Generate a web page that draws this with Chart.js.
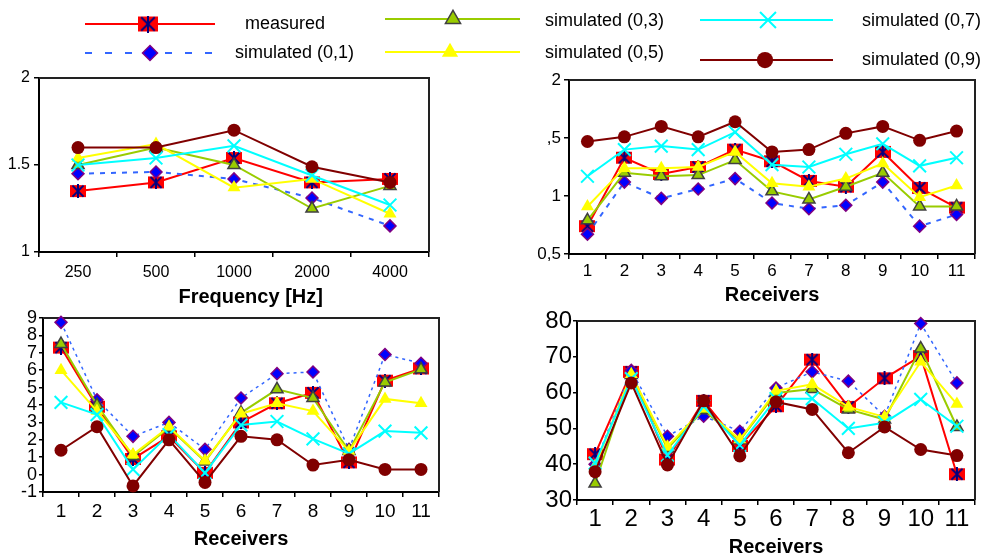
<!DOCTYPE html>
<html>
<head>
<meta charset="utf-8">
<script src="https://cdn.jsdelivr.net/npm/chart.js@4.4.1/dist/chart.umd.min.js"></script>
<style>
html, body { margin: 0; padding: 0; background: #fff; overflow: hidden; width: 986px; height: 559px; }
.box { position: absolute; }
#legend { position: absolute; left: 0; top: 0; }
</style>
</head>
<body>
<canvas id="legend" width="986" height="75"></canvas>
<div class="box" style="left:0;top:60px;width:440px;height:250px"><canvas id="c1"></canvas></div>
<div class="box" style="left:510px;top:60px;width:476px;height:250px"><canvas id="c2"></canvas></div>
<div class="box" style="left:0;top:300px;width:450px;height:259px"><canvas id="c3"></canvas></div>
<div class="box" style="left:510px;top:300px;width:476px;height:259px"><canvas id="c4"></canvas></div>
<script>
// Measured vs simulated (scattering 0,1 .. 0,9) - four panels + shared legend

const FONT = "'Liberation Sans', Arial, sans-serif";
Chart.defaults.font.family = FONT;
Chart.defaults.color = '#000';

// --- Data ---
const seriesNames = ['measured', 'simulated (0,1)', 'simulated (0,3)', 'simulated (0,5)', 'simulated (0,7)', 'simulated (0,9)'];

const freqLabels = ['250', '500', '1000', '2000', '4000'];
const receiverLabels = ['1', '2', '3', '4', '5', '6', '7', '8', '9', '10', '11'];

// top left: vs frequency
const freqMeasured = [1.35, 1.40, 1.54, 1.40, 1.42];
const freqSim01 = [1.45, 1.46, 1.42, 1.31, 1.15];
const freqSim03 = [1.50, 1.60, 1.50, 1.25, 1.38];
const freqSim05 = [1.54, 1.62, 1.37, 1.42, 1.22];
const freqSim07 = [1.50, 1.54, 1.61, 1.44, 1.27];
const freqSim09 = [1.60, 1.60, 1.70, 1.49, 1.40];

// top right: per receiver
const bMeasured = [0.74, 1.33, 1.19, 1.25, 1.40, 1.30, 1.13, 1.08, 1.38, 1.07, 0.90];
const bSim01 = [0.67, 1.12, 0.98, 1.06, 1.15, 0.94, 0.89, 0.92, 1.12, 0.74, 0.84];
const bSim03 = [0.79, 1.20, 1.17, 1.18, 1.31, 1.04, 0.97, 1.08, 1.20, 0.91, 0.91];
const bSim05 = [0.91, 1.24, 1.24, 1.25, 1.38, 1.11, 1.08, 1.15, 1.28, 0.99, 1.09];
const bSim07 = [1.17, 1.40, 1.43, 1.40, 1.55, 1.27, 1.25, 1.36, 1.45, 1.26, 1.33];
const bSim09 = [1.47, 1.51, 1.60, 1.51, 1.64, 1.38, 1.40, 1.54, 1.60, 1.48, 1.56];

// bottom left: per receiver
const cMeasured = [7.3, 3.9, 0.9, 2.2, 0.1, 3.0, 4.1, 4.7, 0.7, 5.4, 6.1];
const cSim01 = [8.75, 4.3, 2.2, 3.0, 1.45, 4.4, 5.8, 5.9, 1.45, 6.9, 6.4];
const cSim03 = [7.5, 4.0, 1.05, 2.7, 0.75, 3.55, 4.9, 4.4, 1.35, 5.3, 6.05];
const cSim05 = [6.0, 3.65, 1.15, 2.75, 0.8, 3.5, 4.1, 3.65, 1.35, 4.35, 4.1];
const cSim07 = [4.15, 3.45, 0.3, 2.3, 0.1, 2.85, 3.05, 2.05, 1.2, 2.5, 2.4];
const cSim09 = [1.4, 2.75, -0.65, 2.0, -0.45, 2.2, 2.0, 0.55, 0.85, 0.3, 0.3];

// bottom right: per receiver
const dMeasured = [42.8, 65.8, 41.3, 57.7, 45.1, 56.2, 69.2, 56.0, 64.0, 70.2, 37.2];
const dSim01 = [40.0, 66.2, 47.8, 53.4, 49.2, 61.3, 65.8, 63.2, 53.4, 79.3, 62.7];
const dSim03 = [34.6, 64.9, 44.4, 55.1, 46.7, 59.9, 61.0, 55.3, 52.5, 72.3, 50.4];
const dSim05 = [39.5, 65.1, 44.9, 55.6, 46.9, 60.5, 62.3, 56.0, 53.2, 68.6, 56.8];
const dSim07 = [40.3, 63.9, 42.5, 56.2, 45.3, 58.3, 58.3, 50.0, 51.6, 58.1, 50.6];
const dSim09 = [37.9, 62.7, 39.8, 57.7, 42.3, 57.4, 55.3, 43.2, 50.4, 44.1, 42.4];

// --- Markers / styles ---
function measuredMarker(w, h) {
	// red box with navy asterisk on top
	const c = document.createElement('canvas');
	c.width = w; c.height = h + 2;
	const g = c.getContext('2d');
	g.fillStyle = '#ff0000';
	g.fillRect(0, 1, w, h);
	g.strokeStyle = '#000080';
	g.lineWidth = 2;
	const cx = w / 2, r = (h + 2) / 2;
	g.beginPath();
	g.moveTo(cx, 0); g.lineTo(cx, h + 2);
	g.moveTo(cx - r * 0.8, r - r * 0.8); g.lineTo(cx + r * 0.8, r + r * 0.8);
	g.moveTo(cx + r * 0.8, r - r * 0.8); g.lineTo(cx - r * 0.8, r + r * 0.8);
	g.stroke();
	return c;
}
const measuredImg = measuredMarker(16, 12);
const measuredLegendImg = measuredMarker(20, 15);

const styles = [
	{ color: '#ff0000', point: measuredImg, radius: 8, bg: '#ff0000', border: '#ff0000', bw: 0 },
	{ color: '#3366ff', point: 'rectRot', radius: 6, bg: '#0000ff', border: '#800080', bw: 1.5, dashed: true },
	{ color: '#99cc00', point: 'triangle', radius: 7, bg: '#99cc00', border: '#404040', bw: 1.5 },
	{ color: '#ffff00', point: 'triangle', radius: 7.5, bg: '#ffff00', border: '#ffff00', bw: 0 },
	{ color: '#00ffff', point: 'crossRot', radius: 9, bg: '#00ffff', border: '#00ffff', bw: 2 },
	{ color: '#800000', point: 'circle', radius: 6.5, bg: '#800000', border: '#800000', bw: 0 }
];

function makeDatasets(seriesList, dash, dashWidth) {
	return seriesList.map((values, i) => {
		const s = styles[i];
		return {
			label: seriesNames[i],
			data: values,
			borderColor: s.color,
			borderWidth: s.dashed ? dashWidth : 2,
			borderDash: s.dashed ? dash : [],
			pointStyle: s.point,
			pointRadius: s.radius,
			pointBackgroundColor: s.bg,
			pointBorderColor: s.border,
			pointBorderWidth: s.bw,
			tension: 0,
			fill: false,
			clip: false,
			order: 5 - i // later series on top
		};
	});
}

// top + right edge of the plot area
const plotFrame = {
	id: 'plotFrame',
	beforeDatasetsDraw(chart) {
		const { ctx, chartArea: a } = chart;
		ctx.save();
		ctx.strokeStyle = '#222';
		ctx.lineWidth = 2;
		ctx.beginPath();
		ctx.moveTo(a.left, a.top);
		ctx.lineTo(a.right, a.top);
		ctx.lineTo(a.right, a.bottom);
		ctx.stroke();
		ctx.restore();
	}
};

function makeOptions(cfg) {
	return {
		responsive: true,
		maintainAspectRatio: false,
		animation: false,
		events: [],
		layout: { padding: { top: cfg.padTop, right: cfg.padRight, left: 0, bottom: 0 } },
		plugins: { legend: { display: false }, tooltip: { enabled: false } },
		scales: {
			x: {
				type: 'category',
				offset: true,
				grid: { offset: true, drawOnChartArea: false, color: '#000', lineWidth: 1.5, tickLength: 5 },
				border: { color: '#000', width: 2 },
				ticks: { font: { size: cfg.xFont }, padding: cfg.xPad, maxRotation: 0, minRotation: 0, autoSkip: false, color: '#000' },
				title: { display: true, text: cfg.title, color: '#000', font: { size: 20, weight: 'bold' }, padding: { top: 0, bottom: cfg.titlePad } },
				afterFit: s => { s.height = cfg.xHeight; }
			},
			y: {
				min: cfg.min,
				max: cfg.max,
				grid: { drawOnChartArea: false, color: '#000', lineWidth: 1.5, tickLength: cfg.yTick },
				border: { color: '#000', width: 2 },
				ticks: { stepSize: cfg.step, font: { size: cfg.yFont }, padding: cfg.yPad, autoSkip: false, color: '#000', callback: cfg.fmt },
				afterFit: s => { s.width = cfg.yWidth; }
			}
		}
	};
}

function plainNum(v) { return String(v); }

const panels = [
	{
		id: 'c1', labels: freqLabels,
		series: [freqMeasured, freqSim01, freqSim03, freqSim05, freqSim07, freqSim09],
		dash: [5, 6], dashWidth: 2,
		opts: { padTop: 18, padRight: 7, yWidth: 39, xHeight: 58, xFont: 16, xPad: 6, titlePad: 1,
			title: '      Frequency [Hz]', min: 1, max: 2, step: 0.5, yFont: 16, yPad: 4, yTick: 5, fmt: plainNum }
	},
	{
		id: 'c2', labels: receiverLabels,
		series: [bMeasured, bSim01, bSim03, bSim05, bSim07, bSim09],
		dash: [5, 6], dashWidth: 2,
		opts: { padTop: 20, padRight: 3, yWidth: 59, xHeight: 56, xFont: 17, xPad: 2, titlePad: 3,
			title: 'Receivers', min: 0.5, max: 2, step: 0.5, yFont: 17, yPad: 3, yTick: 5,
			fmt: v => (v === 1.5 ? ',5' : String(v).replace('.', ',')) }
	},
	{
		id: 'c3', labels: receiverLabels,
		series: [cMeasured, cSim01, cSim03, cSim05, cSim07, cSim09],
		dash: [3, 4], dashWidth: 1.5,
		opts: { padTop: 18, padRight: 8, yWidth: 43, xHeight: 67, xFont: 19, xPad: 3, titlePad: 8,
			title: 'Receivers', min: -1, max: 9, step: 1, yFont: 18, yPad: 2, yTick: 4, fmt: plainNum }
	},
	{
		id: 'c4', labels: receiverLabels,
		series: [dMeasured, dSim01, dSim03, dSim05, dSim07, dSim09],
		dash: [3, 4], dashWidth: 1.5,
		opts: { padTop: 21, padRight: 8, yWidth: 67, xHeight: 59, xFont: 24, xPad: 0, titlePad: 0,
			title: 'Receivers', min: 30, max: 80, step: 10, yFont: 24, yPad: 1, yTick: 4, fmt: plainNum }
	}
];

panels.forEach(p => {
	new Chart(document.getElementById(p.id), {
		type: 'line',
		data: { labels: p.labels, datasets: makeDatasets(p.series, p.dash, p.dashWidth) },
		options: makeOptions(p.opts),
		plugins: [plotFrame]
	});
});

// --- Legend (drawn by hand, markers via Chart.helpers.drawPoint) ---
const legendLayout = [
	{ x1: 85, x2: 215, y: 24, mx: 148, tx: 245, ty: 24 },
	{ x1: 85, x2: 215, y: 53, mx: 150, tx: 235, ty: 53 },
	{ x1: 385, x2: 520, y: 19, mx: 453, tx: 545, ty: 21 },
	{ x1: 385, x2: 520, y: 52, mx: 450, tx: 545, ty: 53 },
	{ x1: 700, x2: 833, y: 20, mx: 768, tx: 862, ty: 21 },
	{ x1: 700, x2: 833, y: 60, mx: 765, tx: 862, ty: 60 }
];

function drawLegend() {
	const ctx = document.getElementById('legend').getContext('2d');
	legendLayout.forEach((L, i) => {
		const s = styles[i];
		ctx.save();
		ctx.strokeStyle = s.color;
		ctx.lineWidth = 2;
		ctx.setLineDash(s.dashed ? [7, 13] : []);
		ctx.beginPath();
		ctx.moveTo(L.x1, L.y);
		ctx.lineTo(L.x2, L.y);
		ctx.stroke();
		ctx.setLineDash([]);
		ctx.fillStyle = s.bg;
		ctx.strokeStyle = s.border;
		ctx.lineWidth = s.bw;
		const pt = i === 0 ? measuredLegendImg : s.point;
		Chart.helpers.drawPoint(ctx, { pointStyle: pt, radius: s.radius * 1.25, borderWidth: s.bw, rotation: 0 }, L.mx, L.y);
		ctx.restore();
		ctx.fillStyle = '#000';
		ctx.font = '18px ' + FONT;
		ctx.textBaseline = 'middle';
		ctx.fillText(seriesNames[i], L.tx, L.ty);
	});
}
drawLegend();
</script>
</body>
</html>
